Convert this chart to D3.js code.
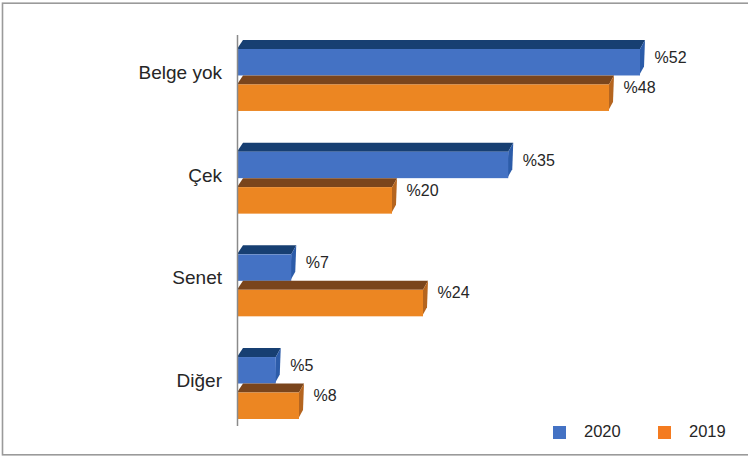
<!DOCTYPE html>
<html>
<head>
<meta charset="utf-8">
<script src="https://cdn.jsdelivr.net/npm/d3@7/dist/d3.min.js"></script>
<style>
  html, body { margin: 0; padding: 0; background: #fff; }
  svg { display: block; }
  text { font-family: "Liberation Sans", Arial, Helvetica, sans-serif; fill: #262626; }
</style>
</head>
<body>
<script>
// ---- Data ----
const categories = ["Belge yok", "Çek", "Senet", "Diğer"];
const seriesNames = ["2020", "2019"];
const values2020 = [52, 35, 7, 5];
const values2019 = [48, 20, 24, 8];
const labelPrefix = "%";

// ---- Styles ----
const W = 748, H = 457;
const palette = {
  "2020": { front: "#4472C4", top: "#173F72", side: "#2C5CA9", legend: "#4472C4" },
  "2019": { front: "#EC8622", top: "#7A451C", side: "#B5651F", legend: "#F47B20" }
};
const dx = 5, dy = 9;

const svg = d3.select("body").append("svg").attr("width", W).attr("height", H);

// frame
svg.append("rect").attr("x", 2.5).attr("y", 3.2).attr("width", W + 10).attr("height", 451.6)
  .attr("fill", "none").attr("stroke", "#9a9a9a").attr("stroke-width", 1.6);

const y = d3.scaleBand().domain(categories).range([40, 419]).paddingInner(0.309).paddingOuter(0);
const ySub = d3.scaleBand().domain(seriesNames).range([0, y.bandwidth()]).padding(0);
const x = d3.scaleLinear().domain([0, 52]).range([237, 640]);

const rows = [];
categories.forEach((c, i) => {
  rows.push({ cat: c, s: "2020", v: values2020[i] });
  rows.push({ cat: c, s: "2019", v: values2019[i] });
});

const g = svg.append("g");
rows.forEach(d => {
  const col = palette[d.s];
  const slotTop = y(d.cat) + ySub(d.s);
  const yF = slotTop + dy;              // front face top
  const yB = slotTop + ySub.bandwidth(); // front face bottom
  const x0 = x(0), x1 = x(d.v);
  // top face
  g.append("polygon")
    .attr("points", [[x0, yF], [x0 + dx + 1, yF - dy], [x1 + dx, yF - dy], [x1, yF]].map(p => p.join(",")).join(" "))
    .attr("fill", col.top);
  // side face
  g.append("polygon")
    .attr("points", [[x1, yF], [x1 + dx, yF - dy], [x1 + dx - 1, yB - dy], [x1 - 1, yB]].map(p => p.join(",")).join(" "))
    .attr("fill", col.side);
  // front face
  g.append("rect").attr("x", x0).attr("y", yF).attr("width", x1 - x0).attr("height", yB - yF)
    .attr("fill", col.front);
  // value label
  const off = d.s === "2020" ? 14 : 8.5;
  g.append("text").attr("x", x1 + 14.5).attr("y", yF + off)
    .attr("font-size", 16).text(labelPrefix + d.v);
});

// axis line
svg.append("line").attr("x1", 237.5).attr("x2", 237.5).attr("y1", 35).attr("y2", 426)
  .attr("stroke", "#8a8a8a").attr("stroke-width", 1.5);

// category labels
svg.append("g").selectAll("text").data(categories).join("text")
  .attr("x", 222).attr("y", d => y(d) + 39)
  .attr("text-anchor", "end").attr("font-size", 19).text(d => d);

// legend
const legendX = [553, 658];
const lg = svg.append("g");
seriesNames.forEach((s, i) => {
  lg.append("rect").attr("x", legendX[i]).attr("y", 426).attr("width", 13).attr("height", 13)
    .attr("fill", palette[s].legend);
  lg.append("text").attr("x", legendX[i] + 31).attr("y", 437).attr("font-size", 16.5).text(s);
});
</script>
</body>
</html>
